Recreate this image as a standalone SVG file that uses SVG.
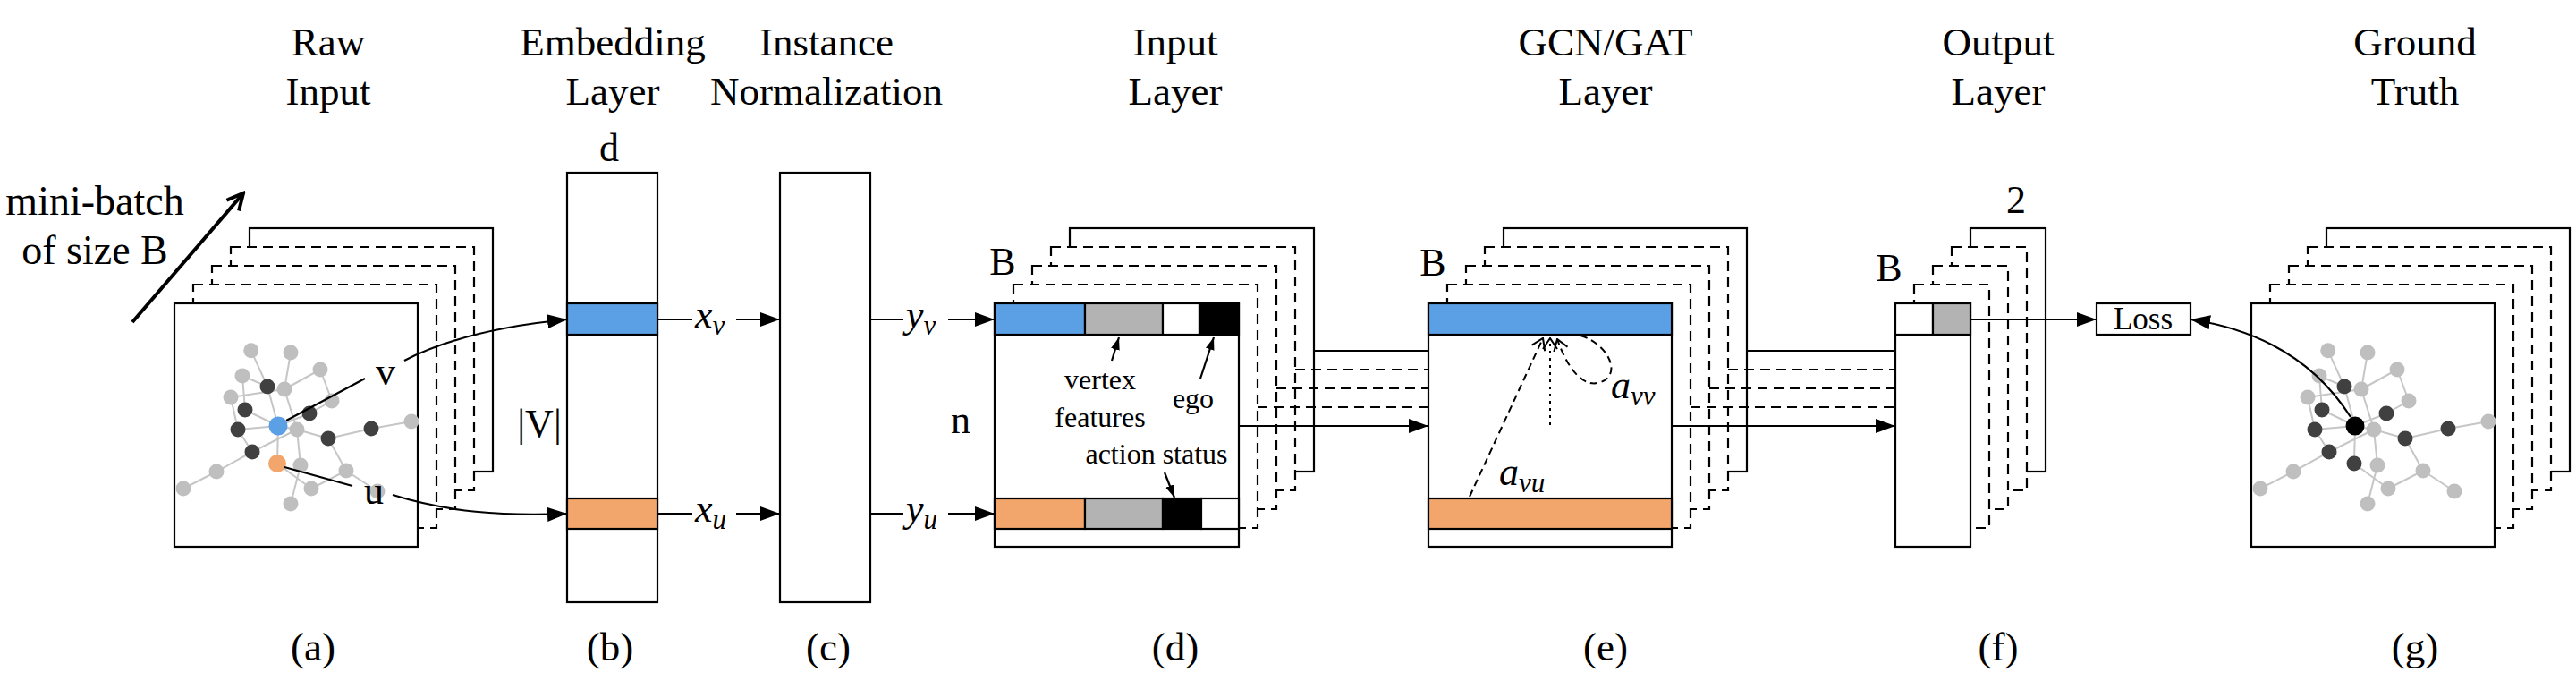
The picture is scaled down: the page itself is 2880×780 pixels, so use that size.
<svg xmlns="http://www.w3.org/2000/svg" xmlns:xlink="http://www.w3.org/1999/xlink" width="2880" height="780" viewBox="0 0 2880 780">
<style>
text{font-family:"Liberation Serif","Times New Roman",serif;fill:#000}
.t{font-size:45px;text-anchor:middle}
.lab{font-size:44px;text-anchor:middle}
.sm{font-size:32px;text-anchor:middle}
.mi{font-size:44px;font-style:italic}
.sub{font-size:31px;font-style:italic}
.box{fill:#fff;stroke:#000;stroke-width:2.2}
.dbox{fill:#fff;stroke:#000;stroke-width:2.2;stroke-dasharray:11 7}
.ln{fill:none;stroke:#000;stroke-width:2.2}
.dl{fill:none;stroke:#000;stroke-width:2.2;stroke-dasharray:11 7}
.blue{fill:#5b9fe4;stroke:#000;stroke-width:2.2}
.orange{fill:#f2a66b;stroke:#000;stroke-width:2.2}
.gray{fill:#b3b3b3;stroke:#000;stroke-width:2.2}
.black{fill:#000;stroke:#000;stroke-width:2.2}
.white{fill:#fff;stroke:#000;stroke-width:2.2}
.e{stroke:#c6c6c6;stroke-width:2}
.lt{fill:#bfbfbf}
.dk{fill:#404040}
</style>
<defs>
<marker id="ah" viewBox="0 0 22 16" refX="22" refY="8" markerWidth="22" markerHeight="16" markerUnits="userSpaceOnUse" orient="auto"><path d="M0,0 L22,8 L0,16 Z" fill="#000"/></marker>
<marker id="sah" viewBox="0 0 14 10" refX="14" refY="5" markerWidth="14" markerHeight="10" markerUnits="userSpaceOnUse" orient="auto"><path d="M0,0 L14,5 L0,10 Z" fill="#000"/></marker>
<marker id="oa" viewBox="0 0 14 18" refX="13" refY="9" markerWidth="14" markerHeight="18" markerUnits="userSpaceOnUse" orient="auto"><path d="M1,1 L13,9 L1,17" fill="none" stroke="#000" stroke-width="2"/></marker>
<marker id="big" viewBox="0 0 24 24" refX="21" refY="12" markerWidth="24" markerHeight="24" markerUnits="userSpaceOnUse" orient="auto"><path d="M3,3 L21,12 L3,21" fill="none" stroke="#000" stroke-width="4"/></marker>
<g id="gedges">
<line class="e" x1="2602.7" y1="391.7" x2="2621" y2="432"/>
<line class="e" x1="2647" y1="394" x2="2640" y2="435"/>
<line class="e" x1="2680" y1="413" x2="2640" y2="435"/>
<line class="e" x1="2680" y1="413" x2="2693" y2="448"/>
<line class="e" x1="2593" y1="420" x2="2621" y2="432"/>
<line class="e" x1="2593" y1="420" x2="2596" y2="458"/>
<line class="e" x1="2580" y1="444" x2="2640" y2="435"/>
<line class="e" x1="2580" y1="444" x2="2588" y2="480"/>
<line class="e" x1="2621" y1="432" x2="2633" y2="476"/>
<line class="e" x1="2640" y1="435" x2="2654" y2="480"/>
<line class="e" x1="2596" y1="458" x2="2633" y2="476"/>
<line class="e" x1="2588" y1="480" x2="2633" y2="476"/>
<line class="e" x1="2693" y1="448" x2="2668" y2="462"/>
<line class="e" x1="2668" y1="462" x2="2633" y2="476"/>
<line class="e" x1="2633" y1="476" x2="2654" y2="480"/>
<line class="e" x1="2654" y1="480" x2="2689" y2="490"/>
<line class="e" x1="2689" y1="490" x2="2737" y2="479"/>
<line class="e" x1="2737" y1="479" x2="2782" y2="471"/>
<line class="e" x1="2689" y1="490" x2="2709" y2="526"/>
<line class="e" x1="2709" y1="526" x2="2670" y2="546"/>
<line class="e" x1="2709" y1="526" x2="2744" y2="549"/>
<line class="e" x1="2654" y1="480" x2="2658" y2="520"/>
<line class="e" x1="2658" y1="520" x2="2647" y2="563"/>
<line class="e" x1="2633" y1="476" x2="2632" y2="518"/>
<line class="e" x1="2632" y1="518" x2="2670" y2="546"/>
<line class="e" x1="2588" y1="480" x2="2604" y2="505"/>
<line class="e" x1="2604" y1="505" x2="2564" y2="527"/>
<line class="e" x1="2564" y1="527" x2="2527" y2="546"/>
<line class="e" x1="2604" y1="505" x2="2654" y2="480"/>
</g>
<g id="gnodes">
<circle class="lt" cx="2602.7" cy="391.7" r="8.5"/>
<circle class="lt" cx="2647" cy="394" r="8.5"/>
<circle class="lt" cx="2680" cy="413" r="8.5"/>
<circle class="lt" cx="2593" cy="420" r="8.5"/>
<circle class="lt" cx="2640" cy="435" r="8.5"/>
<circle class="lt" cx="2580" cy="444" r="8.5"/>
<circle class="lt" cx="2693" cy="448" r="8.5"/>
<circle class="lt" cx="2654" cy="480" r="8.5"/>
<circle class="lt" cx="2782" cy="471" r="8.5"/>
<circle class="lt" cx="2658" cy="520" r="8.5"/>
<circle class="lt" cx="2709" cy="526" r="8.5"/>
<circle class="lt" cx="2564" cy="527" r="8.5"/>
<circle class="lt" cx="2527" cy="546" r="8.5"/>
<circle class="lt" cx="2670" cy="546" r="8.5"/>
<circle class="lt" cx="2744" cy="549" r="8.5"/>
<circle class="lt" cx="2647" cy="563" r="8.5"/>
<circle class="dk" cx="2621" cy="432" r="8.5"/>
<circle class="dk" cx="2596" cy="458" r="8.5"/>
<circle class="dk" cx="2668" cy="462" r="8.5"/>
<circle class="dk" cx="2588" cy="480" r="8.5"/>
<circle class="dk" cx="2689" cy="490" r="8.5"/>
<circle class="dk" cx="2737" cy="479" r="8.5"/>
<circle class="dk" cx="2604" cy="505" r="8.5"/>
</g>
</defs>
<rect width="2880" height="780" fill="#fff"/>

<g id="titles">
<text class="t" x="367" y="62">Raw</text><text class="t" x="367" y="117">Input</text>
<text class="t" x="685" y="62">Embedding</text><text class="t" x="685" y="117">Layer</text>
<text class="t" x="924" y="62">Instance</text><text class="t" x="924" y="117">Normalization</text>
<text class="t" x="1314" y="62">Input</text><text class="t" x="1314" y="117">Layer</text>
<text class="t" x="1795" y="62">GCN/GAT</text><text class="t" x="1795" y="117">Layer</text>
<text class="t" x="2234" y="62">Output</text><text class="t" x="2234" y="117">Layer</text>
<text class="t" x="2700" y="62">Ground</text><text class="t" x="2700" y="117">Truth</text>
</g>

<g id="minibatch">
<text x="106" y="240" style="font-size:46px;text-anchor:middle">mini-batch</text>
<text x="106" y="295" style="font-size:46px;text-anchor:middle">of size B</text>
<line x1="148" y1="360" x2="272" y2="216" stroke="#000" stroke-width="4" marker-end="url(#big)"/>
</g>

<g id="raw-input">
<rect class="box" x="279" y="255" width="272" height="272"/>
<rect class="dbox" x="258" y="276" width="272" height="272"/>
<rect class="dbox" x="237" y="297" width="272" height="272"/>
<rect class="dbox" x="216" y="318" width="272" height="272"/>
<rect class="box" x="195" y="339" width="272" height="272"/>
<g transform="translate(-2322,0)">
<use xlink:href="#gedges"/>
<use xlink:href="#gnodes"/>
<circle cx="2632" cy="518" r="10" fill="#f2a66b"/>
<circle cx="2633" cy="476" r="10.5" fill="#5b9fe4"/>
</g>
<text x="431" y="430" class="lab">v</text>
<text x="418" y="563" class="lab">u</text>
<text class="t" x="350" y="738">(a)</text>
</g>

<g id="embedding-layer">
<rect class="box" x="634" y="193" width="101" height="480"/>
<rect class="blue" x="634" y="339" width="101" height="35"/>
<rect class="orange" x="634" y="557" width="101" height="34"/>
<text class="lab" x="681" y="180">d</text>
<text class="lab" x="603" y="488">|V|</text>
<text class="t" x="682" y="738">(b)</text>
</g>

<g id="instance-norm">
<rect class="box" x="872" y="193" width="101" height="480"/>
<text class="t" x="926" y="738">(c)</text>
</g>

<g id="input-layer">
<rect class="box" x="1196" y="255" width="273" height="272"/>
<rect class="dbox" x="1175" y="276" width="273" height="272"/>
<rect class="dbox" x="1154" y="297" width="273" height="272"/>
<rect class="dbox" x="1133" y="318" width="273" height="272"/>
<rect class="box" x="1112" y="339" width="273" height="272"/>
<rect class="blue" x="1112" y="339" width="101" height="35"/>
<rect class="gray" x="1213" y="339" width="87" height="35"/>
<rect class="white" x="1300" y="339" width="41" height="35"/>
<rect class="black" x="1341" y="339" width="44" height="35"/>
<rect class="orange" x="1112" y="557" width="101" height="34"/>
<rect class="gray" x="1213" y="557" width="87" height="34"/>
<rect class="black" x="1300" y="557" width="43" height="34"/>
<rect class="white" x="1343" y="557" width="42" height="34"/>
<text class="sm" x="1230" y="435">vertex</text>
<text class="sm" x="1230" y="477">features</text>
<text class="sm" x="1334" y="456">ego</text>
<text class="sm" x="1293" y="518">action status</text>
<line class="ln" x1="1243" y1="403" x2="1251" y2="377" marker-end="url(#sah)"/>
<line class="ln" x1="1342" y1="423" x2="1357" y2="377" marker-end="url(#sah)"/>
<line class="ln" x1="1302" y1="528" x2="1313" y2="556" marker-end="url(#sah)"/>
<text class="lab" x="1121" y="307">B</text>
<text class="lab" x="1074" y="484">n</text>
<text class="t" x="1314" y="738">(d)</text>
</g>

<g id="gcn-layer">
<rect class="box" x="1681" y="255" width="272" height="272"/>
<rect class="dbox" x="1660" y="276" width="272" height="272"/>
<rect class="dbox" x="1639" y="297" width="272" height="272"/>
<rect class="dbox" x="1618" y="318" width="272" height="272"/>
<rect class="box" x="1597" y="339" width="272" height="272"/>
<rect class="blue" x="1597" y="339" width="272" height="35"/>
<rect class="orange" x="1597" y="557" width="272" height="34"/>
<line x1="1643" y1="555" x2="1725" y2="378" stroke="#000" stroke-width="2" stroke-dasharray="8 5" marker-end="url(#oa)"/>
<line x1="1733" y1="475" x2="1733" y2="378" stroke="#000" stroke-width="2" stroke-dasharray="3 5" marker-end="url(#oa)"/>
<path d="M1767,375 C1800,385 1815,422 1786,428 C1766,432 1750,405 1741,379" fill="none" stroke="#000" stroke-width="2" stroke-dasharray="8 5" marker-end="url(#oa)"/>
<text class="mi" x="1801" y="445">a<tspan class="sub" dy="8">vv</tspan></text>
<text class="mi" x="1676" y="542">a<tspan class="sub" dy="8">vu</tspan></text>
<text class="lab" x="1602" y="308">B</text>
<text class="t" x="1795" y="738">(e)</text>
</g>

<g id="output-layer">
<rect class="box" x="2203" y="255" width="84" height="272"/>
<rect class="dbox" x="2182" y="276" width="84" height="272"/>
<rect class="dbox" x="2161" y="297" width="84" height="272"/>
<rect class="dbox" x="2140" y="318" width="84" height="272"/>
<rect class="box" x="2119" y="339" width="84" height="272"/>
<rect class="white" x="2119" y="339" width="42" height="35"/>
<rect class="gray" x="2161" y="339" width="42" height="35"/>
<text class="lab" x="2112" y="314">B</text>
<text class="lab" x="2254" y="238">2</text>
<text class="t" x="2234" y="738">(f)</text>
</g>

<g id="loss">
<rect class="box" x="2344" y="339" width="105" height="35"/>
<text x="2396" y="368" style="font-size:35px;text-anchor:middle">Loss</text>
</g>

<g id="ground-truth">
<rect class="box" x="2601" y="255" width="272" height="272"/>
<rect class="dbox" x="2580" y="276" width="272" height="272"/>
<rect class="dbox" x="2559" y="297" width="272" height="272"/>
<rect class="dbox" x="2538" y="318" width="272" height="272"/>
<rect class="box" x="2517" y="339" width="272" height="272"/>
<use xlink:href="#gedges"/>
<use xlink:href="#gnodes"/>
<circle class="dk" cx="2632" cy="518" r="8.5"/>
<circle cx="2633" cy="476" r="10.5" fill="#000"/>
<text class="t" x="2700" y="738">(g)</text>
</g>

<g id="connectors">
<line class="ln" x1="320" y1="470" x2="408" y2="423"/>
<path class="ln" d="M452,403 Q520,368 634,357" marker-end="url(#ah)"/>
<line class="ln" x1="318" y1="522" x2="394" y2="543"/>
<path class="ln" d="M439,553 C500,572 560,577 634,574" marker-end="url(#ah)"/>
<line class="ln" x1="735" y1="357" x2="774" y2="357"/>
<line class="ln" x1="823" y1="357" x2="872" y2="357" marker-end="url(#ah)"/>
<line class="ln" x1="735" y1="574" x2="774" y2="574"/>
<line class="ln" x1="823" y1="574" x2="872" y2="574" marker-end="url(#ah)"/>
<text class="mi" x="777" y="366">x<tspan class="sub" dy="8">v</tspan></text>
<text class="mi" x="777" y="583">x<tspan class="sub" dy="8">u</tspan></text>
<line class="ln" x1="973" y1="357" x2="1010" y2="357"/>
<line class="ln" x1="1060" y1="357" x2="1112" y2="357" marker-end="url(#ah)"/>
<line class="ln" x1="973" y1="574" x2="1010" y2="574"/>
<line class="ln" x1="1060" y1="574" x2="1112" y2="574" marker-end="url(#ah)"/>
<text class="mi" x="1013" y="366">y<tspan class="sub" dy="8">v</tspan></text>
<text class="mi" x="1013" y="583">y<tspan class="sub" dy="8">u</tspan></text>
<line class="ln" x1="1469" y1="392" x2="1597" y2="392"/>
<line class="dl" x1="1448" y1="413" x2="1597" y2="413"/>
<line class="dl" x1="1427" y1="434" x2="1597" y2="434"/>
<line class="dl" x1="1406" y1="455" x2="1597" y2="455"/>
<line class="ln" x1="1385" y1="476" x2="1597" y2="476" marker-end="url(#ah)"/>
<line class="ln" x1="1953" y1="392" x2="2119" y2="392"/>
<line class="dl" x1="1932" y1="413" x2="2119" y2="413"/>
<line class="dl" x1="1911" y1="434" x2="2119" y2="434"/>
<line class="dl" x1="1890" y1="455" x2="2119" y2="455"/>
<line class="ln" x1="1869" y1="476" x2="2119" y2="476" marker-end="url(#ah)"/>
<line class="ln" x1="2203" y1="357" x2="2344" y2="357" marker-end="url(#ah)"/>
<path class="ln" d="M2628,466 Q2570,375 2449,357" marker-end="url(#ah)"/>
</g>
</svg>
